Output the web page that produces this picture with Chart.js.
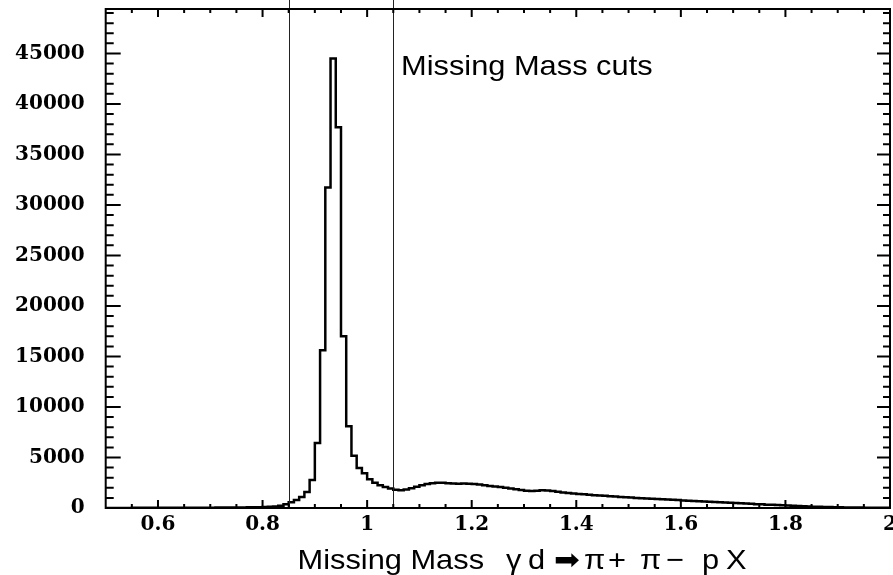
<!DOCTYPE html>
<html>
<head>
<meta charset="utf-8">
<title>Missing Mass</title>
<script src="https://cdn.jsdelivr.net/npm/chart.js@4.4.1/dist/chart.umd.min.js"></script>
<style>
  body { margin: 0; background: #fff; }
  #wrap { width: 893px; height: 575px; }
</style>
</head>
<body>
<div id="wrap"><canvas id="mmChart" width="893" height="575"></canvas></div>
<script>
// Histogram: 150 bins of 0.01 from 0.5 to 2.0
const binStart = 0.5;
const binWidth = 0.01;
const counts = [
    8, 9, 10, 11, 12, 13, 14, 15, 16, 17,                         // 0.50
    18, 19, 20, 22, 23, 25, 27, 29, 31, 33,                       // 0.60
    36, 39, 42, 46, 50, 55, 61, 68, 76, 86,                       // 0.70
    110, 130, 160, 220, 370, 560, 800, 1080, 1590, 2780,          // 0.80
    6430, 15620, 31730, 44500, 37700, 17000, 8090, 5180, 3950, 3450, // 0.90
    2850, 2500, 2250, 2070, 1920, 1800, 1760, 1820, 1950, 2100,   // 1.00
    2250, 2370, 2460, 2510, 2500, 2460, 2420, 2410, 2420, 2410,   // 1.10
    2380, 2330, 2260, 2190, 2130, 2080, 2010, 1940, 1860, 1780,   // 1.20
    1710, 1690, 1720, 1750, 1730, 1680, 1610, 1540, 1480, 1430,   // 1.30
    1390, 1350, 1310, 1270, 1240, 1210, 1170, 1130, 1090, 1060,   // 1.40
    1030, 1000, 970, 940, 910, 880, 860, 840, 810, 780,           // 1.50
    750, 720, 700, 670, 640, 610, 590, 570, 550, 520,             // 1.60
    490, 470, 440, 410, 380, 360, 330, 310, 290, 260,             // 1.70
    240, 220, 190, 170, 150, 130, 115, 100, 90, 80,               // 1.80
    70, 60, 52, 45, 40, 35, 30, 26, 22, 18                        // 1.90
];

// Missing mass cut positions
const cutValues = [0.85, 1.05];

// Axis ticks
const xTickValues = [0.6, 0.8, 1.0, 1.2, 1.4, 1.6, 1.8, 2.0];
const xTickLabels = ['0.6', '0.8', '1', '1.2', '1.4', '1.6', '1.8', '2'];
const yTickValues = [0, 5000, 10000, 15000, 20000, 25000, 30000, 35000, 40000, 45000];
const yMax = 49400;

const annotationText = 'Missing Mass cuts';

document.addEventListener("DOMContentLoaded", function() {
    drawHistogram();
});

// draws frame, inward ticks, cut lines and the texts
const framePlugin = {
    id: 'frame',
    afterDatasetsDraw(chart) {
        const ctx = chart.ctx;
        const area = chart.chartArea;
        const xs = chart.scales.x;
        const ys = chart.scales.y;

        ctx.save();

        // cut lines, running up through the top of the frame
        ctx.strokeStyle = '#222';
        ctx.lineWidth = 1;
        cutValues.forEach(function(v) {
            const px = Math.round(xs.getPixelForValue(v)) + 0.5;
            ctx.beginPath();
            ctx.moveTo(px, 0);
            ctx.lineTo(px, area.bottom);
            ctx.stroke();
        });

        // frame
        ctx.strokeStyle = '#000';
        ctx.lineWidth = 2;
        ctx.strokeRect(area.left, area.top, area.right - area.left, area.bottom - area.top);

        // x ticks (major every 0.2, minor every 0.05)
        ctx.beginPath();
        for (let i = 1; i < 30; i++) {
            const v = xs.min + i * 0.05;
            const major = xTickValues.some(t => Math.abs(t - v) < 1e-6);
            const len = major ? 8 : 4;
            const px = xs.getPixelForValue(v);
            ctx.moveTo(px, area.bottom);
            ctx.lineTo(px, area.bottom - len);
            ctx.moveTo(px, area.top);
            ctx.lineTo(px, area.top + len);
        }
        // y ticks (major every 5000, minor every 1000)
        for (let v = 1000; v < yMax; v += 1000) {
            const major = v % 5000 === 0;
            const py = ys.getPixelForValue(v);
            ctx.moveTo(area.left, py);
            ctx.lineTo(area.left + (major ? 15 : 8), py);
            ctx.moveTo(area.right, py);
            ctx.lineTo(area.right - (major ? 13 : 7), py);
        }
        ctx.stroke();

        // texts (slightly widened like the original)
        ctx.fillStyle = '#000';
        ctx.textBaseline = 'alphabetic';
        ctx.textAlign = 'left';
        ctx.font = '28px "Liberation Sans", "DejaVu Sans", sans-serif';
        drawWide(ctx, annotationText, 401, 75);

        const pieces = [
            ['Missing Mass', 297.5], ['γ', 506], ['d', 528], ['➡', 554],
            ['π', 584], ['+', 608], ['π', 640], ['−', 666], ['p', 702], ['X', 726]
        ];
        pieces.forEach(function(p) {
            drawWide(ctx, p[0], p[1], 569);
        });

        ctx.restore();
    }
};

function drawWide(ctx, text, x, y) {
    ctx.save();
    ctx.translate(x, y);
    ctx.scale(1.1, 1);
    ctx.fillText(text, 0, 0);
    ctx.restore();
}

function drawHistogram() {
    // left bin edges + closing point at the end of the last bin
    const points = counts.map((c, i) => ({ x: binStart + i * binWidth, y: c }));
    points.push({ x: binStart + counts.length * binWidth, y: counts[counts.length - 1] });

    const tickFont = { family: 'DejaVu Serif', weight: 'bold', size: 20 };

    const ctx = document.getElementById('mmChart').getContext('2d');
    new Chart(ctx, {
        type: 'line',
        data: {
            datasets: [{
                label: 'Missing Mass',
                data: points,
                stepped: true,
                borderColor: '#000',
                borderWidth: 2.5,
                pointRadius: 0,
                fill: false
            }]
        },
        options: {
            responsive: false,
            animation: false,
            layout: { padding: { top: 9, right: 3, left: 0, bottom: 0 } },
            plugins: {
                legend: { display: false },
                tooltip: { enabled: false }
            },
            scales: {
                x: {
                    type: 'linear',
                    min: 0.5,
                    max: 2.0,
                    grid: { display: false, drawTicks: false },
                    border: { display: false },
                    afterBuildTicks: function(scale) {
                        scale.ticks = xTickValues.map(v => ({ value: v }));
                    },
                    afterFit: function(scale) {
                        scale.height = 67;
                        scale.paddingLeft = 0;
                        scale.paddingRight = 0;
                    },
                    ticks: {
                        autoSkip: false,
                        maxRotation: 0,
                        padding: 5,
                        color: '#000',
                        font: tickFont,
                        callback: (value, index) => xTickLabels[index]
                    }
                },
                y: {
                    min: 0,
                    max: yMax,
                    grid: { display: false, drawTicks: false },
                    border: { display: false },
                    afterBuildTicks: function(scale) {
                        scale.ticks = yTickValues.map(v => ({ value: v }));
                    },
                    afterFit: function(scale) {
                        scale.width = 105.7;
                        scale.paddingTop = 0;
                        scale.paddingBottom = 0;
                    },
                    ticks: {
                        padding: 21,
                        color: '#000',
                        font: tickFont,
                        callback: value => String(value)
                    }
                }
            }
        },
        plugins: [framePlugin]
    });
}
</script>
</body>
</html>
